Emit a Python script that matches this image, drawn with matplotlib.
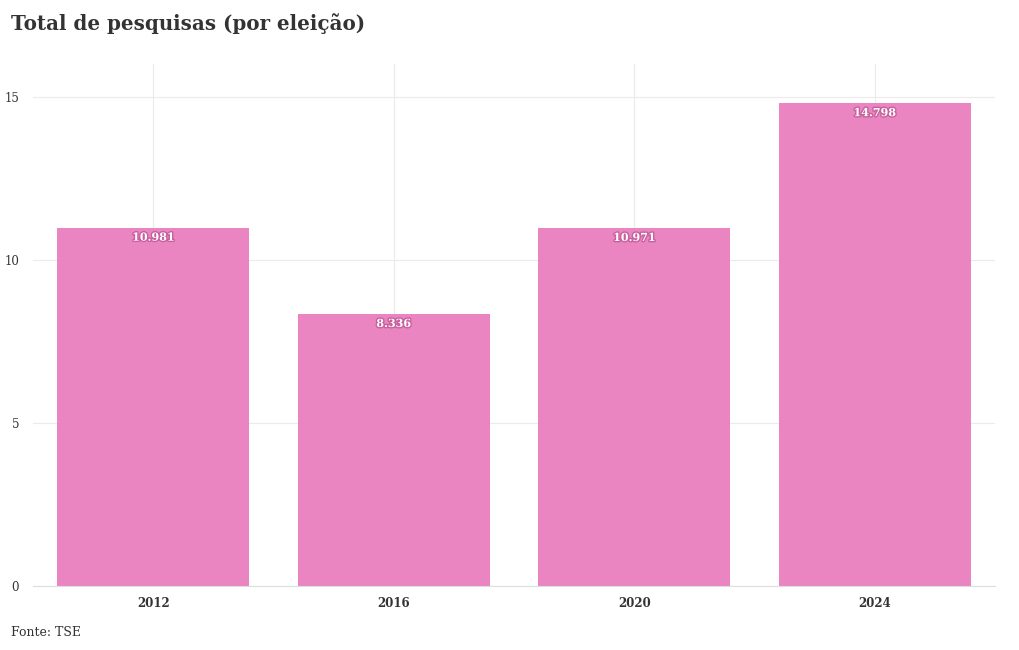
import matplotlib
matplotlib.use("Agg")
import matplotlib.pyplot as plt
import matplotlib.patheffects as pe

# dados: total de pesquisas por eleição (em milhares)
anos = ["2012", "2016", "2020", "2024"]
totais = [10.981, 8.336, 10.971, 14.798]
rotulos = ["10.981", "8.336", "10.971", "14.798"]
yticks = [0, 5, 10, 15]

plt.rcParams['font.family'] = ['DejaVu Serif']

fig = plt.figure(figsize=(10.2, 6.5), dpi=100)
ax = fig.add_axes([33 / 1020, 64 / 650, 962 / 1020, 522 / 650])

x = range(len(anos))
ax.bar(x, totais, width=0.8, color='#e97fbf', alpha=0.95, zorder=2)

for xi, v, lab in zip(x, totais, rotulos):
    ax.text(xi, v - 0.12, lab, ha='center', va='top', fontsize=8, fontweight='bold',
            color='white', zorder=3,
            path_effects=[pe.withStroke(linewidth=2, foreground='#c9609e')])

ax.set_xlim(-0.5, 3.5)
ax.set_ylim(0, 16)
ax.set_xticks(list(x))
ax.set_xticklabels(anos, fontsize=8.5, fontweight='bold', color='#333333')
ax.set_yticks(yticks)
ax.set_yticklabels([str(t) for t in yticks], fontsize=8.5, color='#333333')
ax.tick_params(axis='both', length=0, pad=8)
ax.tick_params(axis='y', pad=10)

ax.grid(True, color='#ebebeb', linewidth=0.8, zorder=0)
for s in ['top', 'right', 'left']:
    ax.spines[s].set_visible(False)
ax.spines['bottom'].set_color('#dddddd')
ax.spines['bottom'].set_linewidth(0.8)

fig.text(11 / 1020, 1 - 24 / 650, "Total de pesquisas (por eleição)", fontsize=14.3,
         fontweight='bold', color='#333333', va='center', ha='left')
fig.text(11 / 1020, 1 - 633 / 650, "Fonte: TSE", fontsize=9, color='#333333',
         va='center', ha='left')

fig.savefig("out.png", dpi=100)
